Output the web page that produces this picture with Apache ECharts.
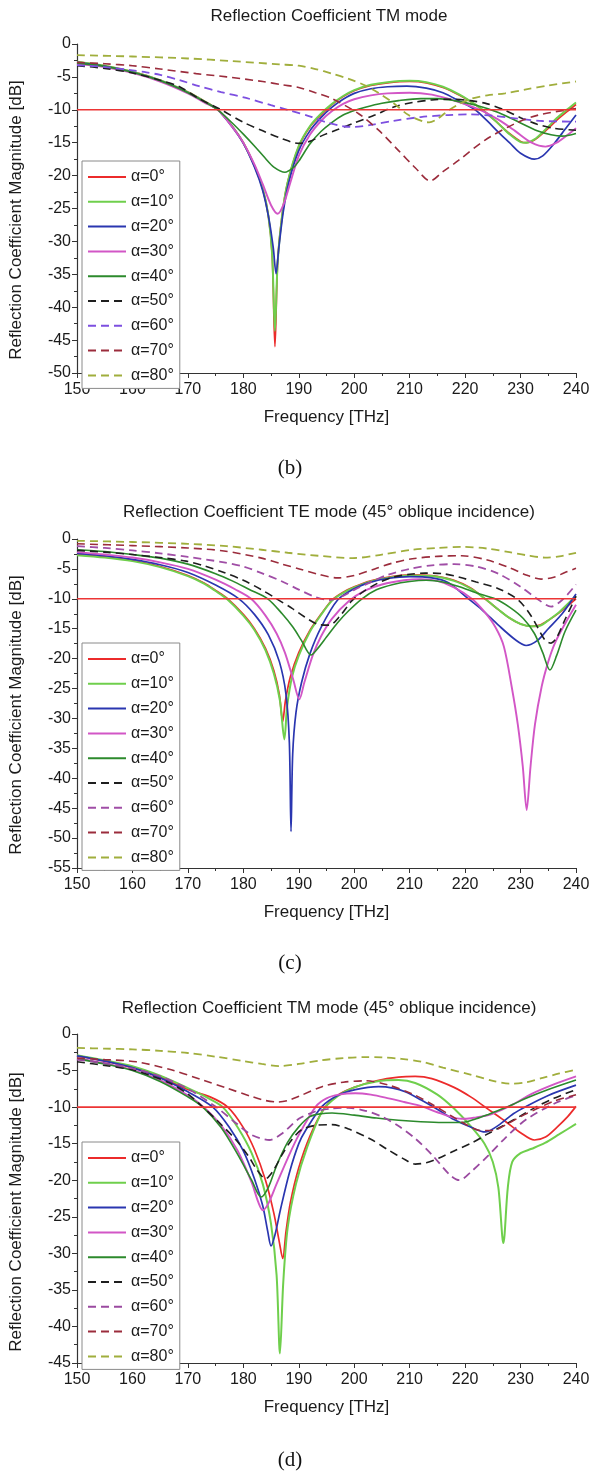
<!DOCTYPE html>
<html><head><meta charset="utf-8">
<script src="https://cdn.jsdelivr.net/npm/echarts@6/dist/echarts.min.js"></script>
<style>
body{margin:0;background:#fff}
#wrap{position:relative;width:590px;height:1472px;background:#fff}
.p{position:absolute;left:0;width:590px}
</style></head><body>
<div id="wrap">
<div id="cb" class="p" style="top:0;height:490px"></div>
<div id="cc" class="p" style="top:490px;height:490px"></div>
<div id="cd" class="p" style="top:980px;height:492px"></div>
</div>
<script>
// ---------- shared data ----------
const seriesNames = ['α=0°','α=10°','α=20°','α=30°','α=40°','α=50°','α=60°','α=70°','α=80°'];
const freqRange = [150, 240];
const thresholdDb = -10;
const titles = ['Reflection Coefficient TM mode','Reflection Coefficient TE mode (45° oblique incidence)','Reflection Coefficient TM mode (45° oblique incidence)'];
const captions = ['(b)','(c)','(d)'];
const yMins = [-50, -55, -45];

// ---------- panel (b) ----------
const b0 = [[150,-2.7],[155,-3.3],[160,-4.2],[165,-5.5],[170,-7.3],[173,-8.7],[175.4,-10],[178,-12.5],[180,-15],[182,-18.5],[183.5,-22],[184.5,-26],[185.2,-32],[185.7,-46],[186.2,-33],[187,-26],[188,-21],[190,-15.6],[192,-12.6],[194,-10.8],[196,-9.2],[198,-8.0],[200,-7.1],[203,-6.3],[206,-5.9],[210,-5.7],[213,-5.9],[216,-6.6],[219,-7.8],[222,-9.3],[224,-10.6],[226,-12.1],[228,-13.6],[230,-14.8],[231,-15],[232.5,-14.6],[234.5,-13.2],[236.5,-11.6],[238.5,-10.2],[240,-9.2]];
const b10 = [[150,-2.7],[155,-3.3],[160,-4.2],[165,-5.5],[170,-7.3],[173,-8.7],[175.4,-10],[178,-12.5],[180,-15],[182,-18.5],[183.5,-22],[184.5,-26],[185.2,-32],[185.7,-43.6],[186.2,-33],[187,-26],[188,-21],[190,-15.5],[192,-12.5],[194,-10.6],[196,-9.1],[198,-7.9],[200,-7.0],[203,-6.2],[206,-5.8],[210,-5.6],[213,-5.8],[216,-6.5],[219,-7.7],[222,-9.3],[224,-10.6],[226,-12.1],[228,-13.7],[230,-14.9],[231,-15],[232.5,-14.5],[234.5,-13.0],[236.5,-11.3],[238.5,-9.9],[240,-8.9]];
const b20 = [[150,-2.8],[155,-3.4],[160,-4.3],[165,-5.6],[170,-7.4],[173,-8.8],[175.4,-10],[178,-12.6],[180,-15.1],[182,-18.7],[183.5,-22.3],[184.6,-26.5],[185.4,-31],[185.9,-34.9],[186.4,-31],[187.2,-25.5],[188.2,-21],[190,-16.2],[192,-13.2],[194,-11.2],[196,-9.6],[198,-8.4],[200,-7.5],[203,-6.8],[206,-6.5],[209.5,-6.4],[213,-6.7],[216,-7.4],[219,-8.7],[221.8,-10],[224,-11.7],[226,-13.4],[228,-15],[230,-16.6],[232.5,-17.5],[234,-17],[236,-15.2],[238,-13],[240,-10.8]];
const b30 = [[150,-3.0],[155,-3.5],[160,-4.4],[165,-5.7],[170,-7.5],[173,-8.9],[175.4,-10],[178,-12.6],[180,-15],[182,-18.3],[183.5,-21.3],[185,-24.5],[186.2,-25.8],[187.2,-24.5],[188.5,-21],[190,-17],[192,-13.8],[194,-11.7],[196,-10.2],[198,-9.1],[200,-8.4],[203,-7.8],[206,-7.5],[210,-7.4],[214,-7.7],[218,-8.6],[222.7,-10],[226,-11.5],[229,-13.2],[232,-15],[234.5,-15.6],[236.5,-15],[238.5,-13.8],[240,-12.8]];
const b40 = [[150,-2.9],[155,-3.4],[160,-4.3],[165,-5.6],[170,-7.4],[173,-8.8],[175.4,-10],[178,-12],[180,-13.7],[182,-15.5],[184,-17.4],[185.5,-18.7],[187.5,-19.5],[189,-18.8],[190,-17.8],[192,-15.2],[194,-13.3],[196,-11.9],[198,-10.8],[200,-10.1],[202,-9.6],[205,-9.0],[208,-8.6],[212,-8.3],[215,-8.3],[218,-8.6],[222,-9.3],[226,-10.4],[230,-12],[233,-13.2],[235.5,-13.8],[237.5,-14],[240,-13.6]];
const b50 = [[150,-3.3],[155,-3.7],[160,-4.4],[165,-5.5],[168.5,-6.5],[172,-8.3],[176,-10],[180,-11.9],[183.5,-13.2],[187,-14.4],[190,-15.1],[192,-14.8],[194,-14],[197,-13],[200,-12],[203.7,-10.8],[207,-9.6],[210.5,-8.9],[214,-8.5],[217.5,-8.4],[221,-8.6],[224,-9.1],[227,-10],[230,-11.2],[233,-12.2],[236,-12.8],[240,-13.1]];
const b60 = [[150,-3.2],[155,-3.5],[160,-4.0],[162.5,-4.3],[165,-4.7],[168.5,-5.5],[172,-6.4],[176,-7.3],[180.5,-8.2],[185,-9.3],[188,-10.0],[192.4,-11.1],[195,-11.9],[198,-12.5],[200,-12.6],[203,-12.3],[207,-11.7],[212,-11.1],[217,-10.8],[221,-10.7],[225,-10.9],[229,-11.3],[234,-11.7],[240,-11.8]];
const b70 = [[150,-2.8],[155,-3.0],[160,-3.3],[165,-3.8],[171.5,-4.5],[177,-5.0],[183.5,-5.7],[187,-6.2],[190,-6.6],[193,-7.4],[196,-8.3],[200.8,-10.6],[204.4,-13.1],[208,-16.2],[211,-18.8],[213.7,-20.8],[216,-19.4],[218.8,-17.7],[223.6,-14.6],[229,-12.1],[233.2,-10.8],[240,-9.8]];
const b80 = [[150,-1.7],[160,-1.9],[170,-2.2],[178,-2.6],[186.5,-3.1],[190,-3.3],[193,-3.8],[196,-4.5],[199,-5.3],[202,-6.3],[204.5,-7.5],[206.8,-8.8],[209.8,-10.8],[212.5,-11.8],[213.5,-11.9],[215,-11.4],[217,-10.1],[219,-9.1],[221.2,-8.3],[224,-7.8],[227.2,-7.5],[231,-6.9],[235,-6.3],[240,-5.7]];

// ---------- panel (c) ----------
const c0 = [[150,-2.6],[155,-3.0],[160,-3.6],[165,-4.6],[170,-6.1],[173,-7.4],[175,-8.6],[177.2,-10],[180,-12.6],[182,-15],[184,-18.3],[185.5,-22],[186.5,-26],[187.1,-30.5],[187.6,-27],[188.5,-23],[190,-19],[192,-15.3],[194,-12.6],[196,-10.2],[198,-8.9],[200,-8.0],[203,-7.0],[206,-6.4],[210,-6.0],[214,-6.1],[218,-6.9],[221,-8.2],[223.6,-10],[226,-11.8],[228,-13.2],[230,-14.2],[232,-14.6],[233.5,-14.4],[235,-13.6],[237,-12.3],[240,-10]];
const c10 = [[150,-2.7],[155,-3.1],[160,-3.7],[165,-4.7],[170,-6.2],[173,-7.5],[175,-8.7],[177,-10],[180,-12.8],[182,-15.2],[184,-18.6],[185.5,-22.5],[186.6,-27],[187.4,-33.5],[187.9,-28],[188.8,-23],[190,-19.5],[192,-15.5],[194,-12.7],[196,-10.3],[198,-9.0],[200,-8.1],[203,-7.1],[206,-6.5],[210,-6.1],[214,-6.2],[218,-7.0],[221,-8.3],[223.6,-10],[226,-11.8],[228,-13.2],[230,-14.2],[232,-14.6],[233.5,-14.5],[235,-13.6],[237,-12.2],[240,-9.5]];
const c20 = [[150,-2.4],[155,-2.8],[160,-3.4],[165,-4.3],[170,-5.6],[175,-7.7],[179.2,-10],[182,-12.6],[184.5,-16],[186.5,-20.5],[187.7,-26],[188.3,-34],[188.6,-48.9],[188.9,-36],[189.5,-29],[190.5,-24],[192,-19.2],[194,-14.8],[197,-10.2],[200,-8.3],[203,-7.2],[206,-6.6],[210,-6.3],[214,-6.5],[217,-7.3],[220.6,-10],[223,-11.8],[226,-14.4],[229,-16.8],[231,-17.8],[233,-17],[235,-15],[237.5,-12.5],[240,-9.2]];
const c30 = [[150,-2.2],[155,-2.6],[160,-3.1],[165,-3.9],[170,-5.0],[175,-6.8],[178.5,-8.4],[181.4,-10],[184,-12.8],[186,-15.8],[187.5,-19],[189,-23.5],[190.1,-26.8],[191,-24],[192.5,-19.5],[194,-16.3],[196,-13.3],[199,-10.4],[202,-8.6],[205,-7.6],[209,-6.9],[212,-6.7],[215,-7.0],[218,-8.1],[221.2,-10],[223.5,-12.2],[225.5,-14.8],[227,-18],[228.4,-24.7],[229.5,-31],[230.4,-38],[231.1,-45.3],[231.8,-38],[232.6,-31],[233.8,-24.7],[235,-20.5],[236.2,-17.4],[238,-14.2],[240,-11]];
const c40 = [[150,-1.8],[155,-2.1],[160,-2.6],[165,-3.2],[170,-4.2],[175,-5.8],[178,-7.0],[181,-8.4],[184.4,-10],[187,-12.5],[189,-14.8],[190.5,-17],[192.2,-19.4],[193.5,-18.2],[195,-16.4],[197,-14],[199,-12],[201.4,-10],[204,-8.5],[207,-7.6],[210,-7.1],[213,-6.9],[216,-7.2],[219,-8.0],[222,-9.0],[225.4,-10],[228,-11.4],[230.5,-13.3],[232.5,-15.8],[234,-19],[235.3,-21.9],[236.5,-19.5],[238,-15.5],[240,-11.9]];
const c50 = [[150,-1.9],[155,-2.2],[160,-2.6],[165,-3.1],[169.7,-3.7],[173,-4.5],[176.5,-5.6],[180,-6.9],[183.3,-8.5],[186,-10],[188.8,-11.6],[191,-13],[193.6,-14.3],[195.5,-14.4],[197.5,-12.8],[199.4,-10.5],[201,-9.2],[204,-7.5],[207,-6.4],[210,-5.9],[212.8,-5.7],[216,-5.8],[219,-6.4],[222,-7.2],[226,-8.3],[229.6,-10.2],[232,-13],[234.4,-16.9],[235.5,-17.4],[236.5,-16.5],[238,-13.5],[240,-9.6]];
const c60 = [[150,-1.2],[155,-1.5],[160,-1.9],[165,-2.4],[170,-3.0],[176.5,-3.9],[180,-4.6],[183.3,-5.7],[187,-7.1],[190.1,-8.5],[193,-9.7],[195.5,-10.2],[198,-9.5],[200,-8.5],[203,-7.2],[206,-6.0],[210,-5.0],[214,-4.4],[218,-4.2],[222,-4.6],[226,-5.8],[230,-8.0],[233,-10],[235.5,-11.3],[237.5,-10.2],[240,-7.6]];
const c70 = [[150,-0.8],[160,-1.1],[170,-1.5],[176.5,-2.0],[183.3,-3.2],[187,-4.2],[190.1,-5.0],[193.5,-5.9],[197,-6.5],[200,-6.1],[203.7,-5.0],[207,-4.0],[210.5,-3.3],[215,-2.9],[219.4,-2.8],[224,-3.5],[228,-4.8],[231,-6.0],[233.7,-6.7],[236,-6.4],[238,-5.6],[240,-4.9]];
const c80 = [[150,-0.3],[160,-0.5],[170,-0.8],[177,-1.2],[183.3,-1.8],[188,-2.3],[193.5,-2.8],[199.7,-3.2],[205,-2.6],[210.5,-1.8],[215,-1.5],[219.4,-1.3],[224,-1.6],[228,-2.2],[231,-2.7],[234.4,-3.1],[237,-2.9],[240,-2.3]];

// ---------- panel (d) ----------
const d0 = [[150,-3.0],[155,-3.7],[160,-4.6],[165,-5.9],[170,-7.6],[174,-8.6],[177.2,-10],[180,-12.8],[182,-15.8],[184,-20],[185.5,-24.5],[186.5,-28.5],[187.1,-30.7],[187.7,-27],[188.5,-23],[190,-18.3],[192,-14],[194.5,-10.3],[197,-8.4],[200,-7.3],[204,-6.4],[208,-5.9],[211,-5.8],[214,-6.1],[218,-7.3],[221,-8.6],[224,-10.2],[227,-11.8],[230,-13.5],[232.5,-14.5],[234.5,-14.1],[236.5,-12.8],[238.5,-11.3],[240,-9.9]];
const d10 = [[150,-2.9],[155,-3.6],[160,-4.4],[165,-5.7],[170,-7.4],[173.5,-8.7],[176.3,-10],[179,-12.8],[181.5,-16.3],[183.5,-20.5],[185,-26],[186,-33],[186.6,-43.7],[187.2,-34],[188,-26.5],[189.5,-20.5],[191.5,-15.5],[194.3,-10.5],[197,-8.5],[200,-7.3],[204,-6.5],[208,-6.3],[211,-6.7],[215,-8.3],[218,-10.2],[221,-12.6],[223.5,-15],[225,-17.5],[226,-21],[226.9,-28.6],[227.7,-21],[228.5,-17.5],[230,-16.3],[232,-15.7],[234.4,-14.9],[237,-13.7],[240,-12.3]];
const d20 = [[150,-3.0],[155,-3.7],[160,-4.6],[165,-6.0],[170,-7.9],[174.5,-10],[177.5,-12.8],[180,-16],[182,-19.8],[183.5,-23.5],[184.4,-27],[185,-29],[185.7,-27.5],[186.7,-24],[188.3,-19],[190,-15],[191.3,-13.1],[194.2,-9.9],[197,-8.4],[200.2,-7.6],[204.4,-7.2],[207,-7.4],[209.2,-7.9],[212,-9.0],[215.2,-10.4],[218,-11.7],[221.2,-12.8],[223.6,-13.4],[226,-12.5],[228.7,-10.9],[231,-9.9],[235,-8.4],[240,-7.0]];
const d30 = [[150,-3.3],[155,-4.0],[160,-4.9],[165,-6.3],[170,-8.4],[173,-10.1],[176,-12.5],[179,-16],[181.5,-20.3],[182.7,-23],[183.5,-24.1],[184.5,-23.2],[186,-20.5],[188,-17],[190,-13.8],[193.1,-9.9],[195,-8.8],[197.2,-8.3],[200.2,-8.1],[203,-8.3],[206.2,-8.8],[209,-9.3],[212.2,-9.9],[215,-10.7],[218.2,-11.5],[220,-11.6],[222,-11.4],[224.2,-11.1],[226.5,-10.4],[228.7,-9.6],[232,-8.2],[236,-6.9],[240,-5.8]];
const d40 = [[150,-3.4],[155,-4.1],[160,-5.0],[165,-6.5],[170,-8.6],[172.7,-10],[176,-12.8],[179,-16.5],[181.5,-20],[183.2,-22.3],[184.5,-21],[186,-18],[188,-14.8],[190,-12.7],[192,-11.3],[194,-10.9],[196,-10.8],[200,-11.1],[204,-11.5],[208,-11.8],[212,-12],[216,-12.1],[219.4,-12.1],[222,-11.6],[224.2,-11.0],[226.5,-10.3],[228.7,-9.6],[231,-8.8],[235,-7.6],[240,-6.3]];
const d50 = [[150,-3.8],[155,-4.3],[160,-4.9],[163,-5.6],[166.7,-6.7],[170,-8.2],[172.7,-10],[175.5,-12],[178.7,-14.5],[181,-16.8],[182.3,-18.4],[184,-19.8],[185.3,-18.8],[187,-16.5],[188.7,-14.5],[190.5,-13.1],[193,-12.5],[196,-12.4],[199,-13],[203,-14.4],[206,-15.8],[209.2,-17.2],[211,-17.8],[213,-17.6],[215.2,-17],[218,-16],[221.2,-14.9],[224,-13.7],[227.2,-12.4],[230,-11.2],[233,-9.9],[236,-8.8],[240,-7.6]];
const d60 = [[150,-3.5],[155,-4.0],[160,-4.7],[165,-5.8],[170,-7.5],[175.1,-10],[178.7,-12.2],[181.5,-13.8],[184.7,-14.5],[187,-13.6],[190,-11.6],[193,-10.6],[196,-10.2],[199,-10.1],[202,-10.5],[205,-11.3],[208,-12.6],[211,-14.3],[214,-16.5],[217.3,-19.3],[219,-20],[221,-18.9],[224.2,-16.6],[227,-14.4],[231,-11.7],[236.4,-9.4],[240,-8.4]];
const d70 = [[150,-3.3],[155,-3.5],[160.7,-3.8],[167,-4.9],[172.7,-6.3],[177,-7.4],[181.7,-8.6],[184,-9.1],[186.2,-9.3],[188,-9.1],[190.1,-8.5],[194.2,-7.2],[198,-6.6],[202,-6.4],[206.2,-7.0],[210.5,-8.2],[214,-9.6],[217.3,-11.1],[220,-12.3],[222.8,-13.2],[225,-13.2],[227.6,-12.3],[230,-11.3],[233,-10.2],[236,-9.2],[240,-8.3]];
const d80 = [[150,-1.9],[155,-2.0],[160,-2.1],[165,-2.3],[170,-2.6],[175,-3.1],[180,-3.7],[183.3,-4.1],[186.5,-4.4],[190,-4.1],[194,-3.6],[198,-3.3],[202,-3.15],[205,-3.2],[208.5,-3.4],[212.2,-3.8],[216,-4.6],[221.2,-5.6],[225,-6.4],[228,-6.8],[231,-6.6],[234,-6.0],[237,-5.4],[240,-4.9]];

const panelData = [
  [b0,b10,b20,b30,b40,b50,b60,b70,b80],
  [c0,c10,c20,c30,c40,c50,c60,c70,c80],
  [d0,d10,d20,d30,d40,d50,d60,d70,d80]
];

// ---------- styles ----------
const baseColors = ['#ec2b2b','#6fcf4c','#2a36b0','#d256c6','#2c8a2c','#1e1e1e','#7d4fe0','#9b2c3c','#a0ae3c'];
const violetByPanel = ['#7d4fe0','#a04ea6','#9a4aa0'];
const dashedFlags = [false,false,false,false,false,true,true,true,true];
const widths = [1.7,2.0,1.7,1.9,1.6,1.6,1.8,1.6,1.8];

const layouts = [
  {gridTop:44, titleTop:8, legendTop:161, yNameY:220, capY:468},
  {gridTop:49, titleTop:14, legendTop:153, yNameY:225, capY:473},
  {gridTop:54, titleTop:20, legendTop:162, yNameY:232, capY:480}
];
const FONT = '"Liberation Sans", Arial, sans-serif';

function build(p) {
  const L = layouts[p];
  const series = seriesNames.map((nm, i) => {
    const col = i === 6 ? violetByPanel[p] : baseColors[i];
    return {
      type: 'line', name: nm, data: panelData[p][i],
      symbol: 'circle', symbolSize: 0, showSymbol: false, smooth: 0.3,
      lineStyle: {color: col, width: widths[i], type: dashedFlags[i] ? [8,5] : 'solid'},
      itemStyle: {color: col},
      emphasis: {disabled: true}, z: 2 + i
    };
  });
  series.push({
    type: 'line', name: 'threshold', data: freqRange.map(f => [f, thresholdDb]),
    symbol: 'none', lineStyle: {color: '#ec3535', width: 1.6}, itemStyle: {color: '#ec3535'},
    emphasis: {disabled: true}, z: 20, silent: true
  });
  return {
    animation: false,
    backgroundColor: '#fff',
    textStyle: {fontFamily: FONT},
    title: {text: titles[p], left: 329, top: L.titleTop, textAlign: 'center', padding: 0,
      textStyle: {fontSize: 17, fontWeight: 'normal', color: '#1a1a1a', fontFamily: FONT}},
    grid: {left: 77, right: 14, top: L.gridTop, height: 329, containLabel: false, outerBoundsMode: 'none'},
    legend: {
      data: seriesNames, orient: 'vertical', left: 82, top: L.legendTop,
      itemWidth: 38, itemHeight: 14, itemGap: 8.8, padding: [8, 6, 5, 5],
      borderColor: '#8a8a8a', borderWidth: 1, backgroundColor: '#fff',
      itemStyle: {opacity: 0, borderWidth: 0},
      textStyle: {fontSize: 16, color: '#1a1a1a', fontFamily: FONT},
      selectedMode: false
    },
    xAxis: {
      type: 'value', min: freqRange[0], max: freqRange[1], interval: 10,
      name: 'Frequency [THz]', nameLocation: 'middle', nameGap: 36,
      nameTextStyle: {fontSize: 17, color: '#1a1a1a', fontFamily: FONT},
      axisLine: {show: true, onZero: false, lineStyle: {color: '#333', width: 1.2}},
      axisTick: {show: true, length: 5, lineStyle: {color: '#333'}},
      minorTick: {show: true, splitNumber: 2, length: 3, lineStyle: {color: '#333'}},
      splitLine: {show: false},
      axisLabel: {fontSize: 16, color: '#1a1a1a', margin: 9, fontFamily: FONT}
    },
    yAxis: {
      type: 'value', min: yMins[p], max: 0, interval: 5,
      axisLine: {show: true, onZero: false, lineStyle: {color: '#333', width: 1.2}},
      axisTick: {show: true, length: 5, lineStyle: {color: '#333'}},
      minorTick: {show: true, splitNumber: 2, length: 3, lineStyle: {color: '#333'}},
      splitLine: {show: false},
      axisLabel: {fontSize: 16, color: '#1a1a1a', margin: 6, fontFamily: FONT}
    },
    graphic: [
      {type: 'text', x: 16, y: L.yNameY, rotation: Math.PI / 2,
        style: {text: 'Reflection Coefficient Magnitude [dB]', fontSize: 17, fontFamily: FONT,
          fill: '#1a1a1a', textAlign: 'center', textVerticalAlign: 'middle'}},
      {type: 'text', x: 290, y: L.capY,
        style: {text: captions[p], fontSize: 21, fontFamily: '"Liberation Serif", "Times New Roman", serif',
          fill: '#111', textAlign: 'center', textVerticalAlign: 'middle'}}
    ],
    series: series
  };
}

['cb','cc','cd'].forEach((id, p) => {
  const chart = echarts.init(document.getElementById(id), null, {renderer: 'canvas'});
  chart.setOption(build(p));
});
</script>
</body></html>
